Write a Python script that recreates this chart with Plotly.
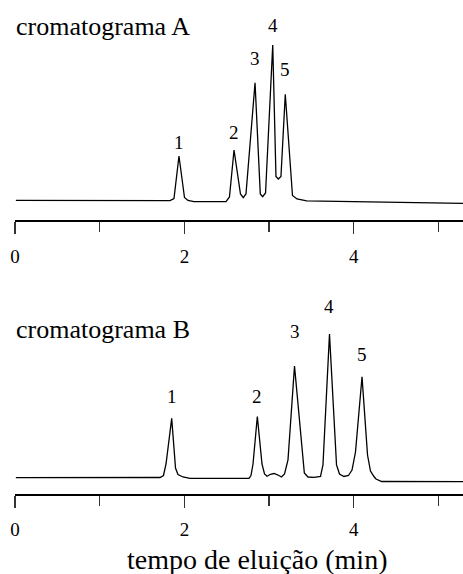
import plotly.graph_objects as go

# ---- data ----
# chromatogram A: elution time (min) and detector signal (arb. units)
time_a = [0.01, 1.83, 1.877, 1.936, 2.001, 2.042, 2.113, 2.491, 2.532, 2.586,
          2.662, 2.695, 2.727, 2.834, 2.896, 2.924, 2.958, 3.043, 3.081, 3.109,
          3.140, 3.191, 3.276, 3.329, 3.444, 5.289]
signal_a = [0.6, 0.4, 2.5, 45, 3.5, 0.5, -0.7, -0.7, 4, 51,
            7, 3.3, 7, 118.3, 7, 4.3, 8, 156, 24.5, 22,
            24.5, 106.7, 5.5, 2, 0.1, -2.3]

# chromatogram B
time_b = [0.01, 1.712, 1.753, 1.783, 1.850, 1.895, 1.924, 1.983, 2.066, 2.763,
          2.786, 2.810, 2.861, 2.916, 2.946, 2.975, 3.017, 3.058, 3.099, 3.146,
          3.182, 3.223, 3.300, 3.377, 3.416, 3.459, 3.530, 3.607, 3.636, 3.713,
          3.796, 3.831, 3.884, 3.937, 3.979, 4.020, 4.097, 4.162, 4.197, 4.238,
          4.262, 4.329, 5.289]
signal_b = [0.3, 0.5, 2.5, 14, 59.7, 10, 3.5, 1, -0.3, -0.3,
            2.5, 14, 61.5, 14, 4, 1.7, 3.7, 4.5, 3.2, 1,
            4, 18, 112, 38, 5, 1, 0.7, 1.5, 13, 144,
            13, 4, 1.5, 2.5, 8, 26, 101.3, 23, 7, 1.5,
            -1, -3.5, -3.7]

# peak apexes and labels
peak_labels = ["1", "2", "3", "4", "5"]
peak_time_a = [1.936, 2.586, 2.834, 3.043, 3.191]
peak_height_a = [45, 51, 118.3, 156, 106.7]
peak_time_b = [1.850, 2.861, 3.300, 3.713, 4.097]
peak_height_b = [59.7, 61.5, 112, 144, 101.3]

tick_vals = [0, 2, 4]
tick_text = ["0", "2", "4"]

panel_titles = ["cromatograma A", "cromatograma B"]
x_title = "tempo de eluição (min)"

# ---- figure ----
W, H = 463, 574
FONT = "Liberation Serif"

fig = go.Figure()
fig.add_trace(go.Scatter(x=time_a, y=signal_a, mode="lines",
                         line=dict(color="black", width=1.3),
                         xaxis="x", yaxis="y", showlegend=False, hoverinfo="skip"))
fig.add_trace(go.Scatter(x=time_b, y=signal_b, mode="lines",
                         line=dict(color="black", width=1.3),
                         xaxis="x2", yaxis="y2", showlegend=False, hoverinfo="skip"))

x_dom = [15 / W, 1]
x_range = [0, (W - 15) / 84.7]

def xaxis_cfg(anchor, standoff):
    return dict(domain=x_dom, range=x_range, anchor=anchor, automargin=False,
                showline=True, linecolor="black", linewidth=2,
                ticks="outside", tickvals=tick_vals, ticktext=tick_text,
                ticklen=12, tickwidth=1.3, tickcolor="#333",
                minor=dict(ticks="outside", tickvals=[1, 3, 5], ticklen=10,
                           tickwidth=1.3, tickcolor="#333"),
                showgrid=False, zeroline=False, fixedrange=True,
                tickfont=dict(family=FONT, size=19, color="black"),
                ticklabelstandoff=standoff)

fig.update_layout(
    template="none",
    width=W, height=H,
    margin=dict(l=0, r=0, t=0, b=0, pad=0, autoexpand=False),
    paper_bgcolor="white", plot_bgcolor="white",
    font=dict(family=FONT, color="black"),
    xaxis=xaxis_cfg("y", 7),
    xaxis2=xaxis_cfg("y2", 5),
    yaxis=dict(domain=[1 - 219.5 / H, 1], range=[-18.5, 201], visible=False,
               automargin=False),
    yaxis2=dict(domain=[1 - 494 / H, 1 - 290 / H], range=[-16, 188], visible=False,
                automargin=False),
)

ann = []
offs_a = [1, 5, 12, 7, 12]
offs_b = [9, 8, 22, 15, 10]
for lab, t, h, o in zip(peak_labels, peak_time_a, peak_height_a, offs_a):
    ann.append(dict(x=t, y=h, xref="x", yref="y", text=lab, showarrow=False,
                    yanchor="bottom", yshift=o,
                    font=dict(family=FONT, size=19, color="black")))
for lab, t, h, o in zip(peak_labels, peak_time_b, peak_height_b, offs_b):
    ann.append(dict(x=t, y=h, xref="x2", yref="y2", text=lab, showarrow=False,
                    yanchor="bottom", yshift=o,
                    font=dict(family=FONT, size=19, color="black")))
ann.append(dict(x=14 / W, y=1 - 27 / H, xref="paper", yref="paper",
                text=panel_titles[0], showarrow=False, xanchor="left", yanchor="middle",
                font=dict(family=FONT, size=26, color="black")))
ann.append(dict(x=14 / W, y=1 - 329 / H, xref="paper", yref="paper",
                text=panel_titles[1], showarrow=False, xanchor="left", yanchor="middle",
                font=dict(family=FONT, size=26, color="black")))
ann.append(dict(x=256.5 / W, y=1 - 559 / H, xref="paper", yref="paper",
                text=x_title, showarrow=False, xanchor="center", yanchor="middle",
                font=dict(family=FONT, size=28, color="black")))
fig.update_layout(annotations=ann)

fig.write_html("out.html",
               config={"displayModeBar": False, "staticPlot": True},
               post_script="document.body.style.margin='0';"
                           "document.body.style.overflow='hidden';")
